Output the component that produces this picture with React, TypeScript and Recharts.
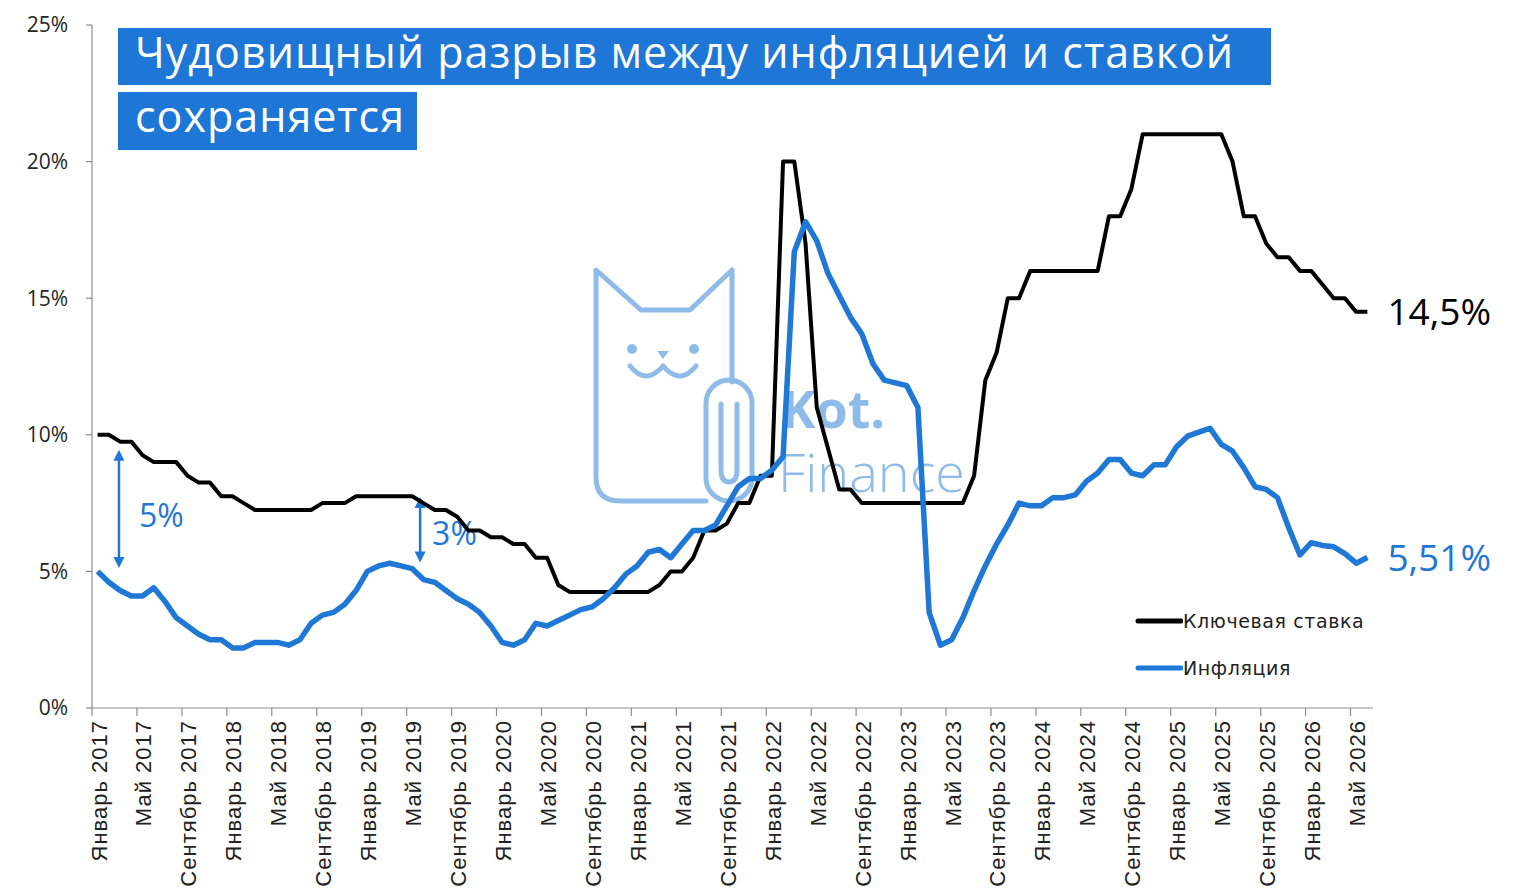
import React from 'react';
import { LineChart, Line, XAxis, YAxis, ReferenceLine, Legend, LabelList } from 'recharts';

// Tick labels (every 4 months)
const tickLabels = [
  'Январь 2017', 'Май 2017', 'Сентябрь 2017',
  'Январь 2018', 'Май 2018', 'Сентябрь 2018',
  'Январь 2019', 'Май 2019', 'Сентябрь 2019',
  'Январь 2020', 'Май 2020', 'Сентябрь 2020',
  'Январь 2021', 'Май 2021', 'Сентябрь 2021',
  'Январь 2022', 'Май 2022', 'Сентябрь 2022',
  'Январь 2023', 'Май 2023', 'Сентябрь 2023',
  'Январь 2024', 'Май 2024', 'Сентябрь 2024',
  'Январь 2025', 'Май 2025', 'Сентябрь 2025',
  'Январь 2026', 'Май 2026',
];

// Ключевая ставка, monthly Jan 2017 .. Jun 2026
const keyRate = [
  10, 10, 9.75, 9.75, 9.25, 9, 9, 9, 8.5, 8.25, 8.25, 7.75,
  7.75, 7.5, 7.25, 7.25, 7.25, 7.25, 7.25, 7.25, 7.5, 7.5, 7.5, 7.75,
  7.75, 7.75, 7.75, 7.75, 7.75, 7.5, 7.25, 7.25, 7, 6.5, 6.5, 6.25,
  6.25, 6, 6, 5.5, 5.5, 4.5, 4.25, 4.25, 4.25, 4.25, 4.25, 4.25,
  4.25, 4.25, 4.5, 5, 5, 5.5, 6.5, 6.5, 6.75, 7.5, 7.5, 8.5,
  8.5, 20, 20, 17, 11, 9.5, 8, 8, 7.5, 7.5, 7.5, 7.5,
  7.5, 7.5, 7.5, 7.5, 7.5, 7.5, 8.5, 12, 13, 15, 15, 16,
  16, 16, 16, 16, 16, 16, 18, 18, 19, 21, 21, 21,
  21, 21, 21, 21, 21, 20, 18, 18, 17, 16.5, 16.5, 16,
  16, 15.5, 15, 15, 14.5, 14.5,
];

// Инфляция, monthly Jan 2017 .. Jun 2026
const inflation = [
  5.0, 4.6, 4.3, 4.1, 4.1, 4.4, 3.9, 3.3, 3.0, 2.7, 2.5, 2.5,
  2.2, 2.2, 2.4, 2.4, 2.4, 2.3, 2.5, 3.1, 3.4, 3.5, 3.8, 4.3,
  5.0, 5.2, 5.3, 5.2, 5.1, 4.7, 4.6, 4.3, 4.0, 3.8, 3.5, 3.0,
  2.4, 2.3, 2.5, 3.1, 3.0, 3.2, 3.4, 3.6, 3.7, 4.0, 4.4, 4.9,
  5.2, 5.7, 5.8, 5.5, 6.0, 6.5, 6.5, 6.7, 7.4, 8.1, 8.4, 8.4,
  8.7, 9.2, 16.7, 17.8, 17.1, 15.9, 15.1, 14.3, 13.7, 12.6, 12.0, 11.9,
  11.8, 11.0, 3.5, 2.3, 2.5, 3.3, 4.3, 5.2, 6.0, 6.7, 7.5, 7.4,
  7.4, 7.7, 7.7, 7.8, 8.3, 8.6, 9.1, 9.1, 8.6, 8.5, 8.9, 8.9,
  9.55, 9.95, 10.1, 10.24, 9.65, 9.4, 8.8, 8.1, 8.0, 7.7, 6.6, 5.6,
  6.05, 5.95, 5.9, 5.65, 5.3, 5.51,
];

const yTicks = [0, 5, 10, 15, 20, 25];
const seriesOrder = ['Ключевая ставка', 'Инфляция'];

// Gap annotations (month position, upper value, lower value, label centre value)
const gapNotes = [
  { x: 2.4, from: 9.45, to: 5.12, labelAt: 7.06, text: '5%' },
  { x: 29.2, from: 7.72, to: 5.33, labelAt: 6.4, text: '3%' },
];

const BLUE = '#1f77d6';
const FONT = "'Open Sans', 'Noto Sans', sans-serif";

const data = keyRate.map((v, i) => ({ x: i + 0.5, rate: v, infl: inflation[i] }));
const xTicks = tickLabels.map((_, k) => k * 4);
const LAST = keyRate.length - 1;

const fmt = (v: number) => String(v).replace('.', ',') + '%';

const XTick = (props: any) => {
  const { x, y, payload } = props;
  const label = tickLabels[Math.round(payload.value / 4)];
  return (
    <text
      transform={`translate(${x + 6.6},${y}) rotate(-90)`}
      textAnchor="end"
      dy="0.36em"
      fontSize={22}
      letterSpacing={1}
      fontFamily="'Liberation Sans', Arial, sans-serif"
      fill="#222"
    >
      {label}
    </text>
  );
};

const endLabel = (color: string) => (props: any) => {
  const { x, y, index, value } = props;
  if (index !== LAST) return null;
  return (
    <text x={x + 20} y={y} dy="0.36em" fontSize={37} fontFamily={FONT} fill={color}>
      {fmt(value)}
    </text>
  );
};

const gapShape = (note: typeof gapNotes[number], dx: number) => (props: any) => {
  const { x1, y1, x2, y2 } = props;
  const ah = 11;
  const aw = 5.5;
  const ly = y1 + ((note.from - note.labelAt) / (note.from - note.to)) * (y2 - y1);
  return (
    <g>
      <line x1={x1} y1={y1 + ah - 1} x2={x2} y2={y2 - ah + 1} stroke={BLUE} strokeWidth={2.5} />
      <polygon points={`${x1},${y1} ${x1 - aw},${y1 + ah} ${x1 + aw},${y1 + ah}`} fill={BLUE} />
      <polygon points={`${x2},${y2} ${x2 - aw},${y2 - ah} ${x2 + aw},${y2 - ah}`} fill={BLUE} />
      <text x={x1 + dx} y={ly} dy="0.36em" fontSize={32} fontFamily={FONT} fill={BLUE}>
        {note.text}
      </text>
    </g>
  );
};

const renderLegend = (props: any) => {
  const items = [...(props.payload || [])].sort(
    (a: any, b: any) => seriesOrder.indexOf(a.value) - seriesOrder.indexOf(b.value)
  );
  return (
    <div>
      {items.map((e: any, i: number) => (
        <div key={i} style={{ display: 'flex', alignItems: 'center', height: 47 }}>
          <svg width={48} height={10} style={{ display: 'block' }}>
            <line x1={3} x2={46} y1={5} y2={5} stroke={e.color} strokeWidth={5} strokeLinecap="round" />
          </svg>
          <span
            style={{
              fontFamily: "'DejaVu Sans', Verdana, sans-serif",
              fontSize: 19,
              letterSpacing: 0.6,
              color: '#222',
              whiteSpace: 'nowrap',
            }}
          >
            {e.value}
          </span>
        </div>
      ))}
    </div>
  );
};

const WM = '#8fbbe9';
const Watermark = () => (
  <svg width={1518} height={894} style={{ position: 'absolute', left: 0, top: 0 }}>
    <g fill="none" stroke={WM} strokeWidth={5} strokeLinejoin="round" strokeLinecap="round">
      <path d="M 706 501 L 620 501 Q 596 501 596 477 L 596 270 L 641 310 L 690 310 L 732 270 L 732 382" />
      <rect x={706} y={380} width={46} height={121} rx={23} />
      <path d="M 721 404 L 721 470 Q 721 482 729 482 Q 737 482 737 470 L 737 404" />
      <path d="M 630 366 Q 646 386 663 366 Q 680 386 696 366" />
    </g>
    <circle cx={632} cy={349} r={5} fill={WM} />
    <circle cx={694} cy={349} r={5} fill={WM} />
    <path d="M 657 351 L 669 351 L 663 359 Z" fill={WM} />
    <text x={781} y={428} fontSize={52} fontWeight={700} fill={WM} fontFamily={FONT}>Kot.</text>
    <text x={778} y={492} fontSize={54} fontWeight={300} fill={WM} fontFamily={FONT}>Finance</text>
  </svg>
);

const titleBox: React.CSSProperties = {
  position: 'absolute',
  left: 118,
  background: '#1e77d6',
  color: '#fff',
  fontFamily: FONT,
  fontSize: 43,
  letterSpacing: 1,
  lineHeight: '47px',
  paddingLeft: 17,
  boxSizing: 'border-box',
  whiteSpace: 'nowrap',
};

export default function App() {
  return (
    <div style={{ position: 'absolute', left: 0, top: 0, width: 1518, height: 894, background: '#fff', overflow: 'hidden' }}>
      <Watermark />
      <div style={{ position: 'absolute', left: 0, top: 0 }}>
        <LineChart width={1518} height={894} data={data} margin={{ top: 25, right: 145, bottom: 0, left: 0 }}>
          <XAxis
            dataKey="x"
            type="number"
            domain={[0, 114]}
            ticks={xTicks}
            interval={0}
            height={186}
            tickSize={8}
            tickMargin={4}
            tick={<XTick />}
            axisLine={{ stroke: '#8c8c8c', strokeWidth: 1.2 }}
            tickLine={{ stroke: '#8c8c8c', strokeWidth: 1.2 }}
          />
          <YAxis
            type="number"
            domain={[0, 25]}
            ticks={yTicks}
            interval={0}
            width={92}
            tickSize={6}
            tickMargin={18}
            tickFormatter={(v: number) => `${v}%`}
            tick={{ fontSize: 21, fontFamily: FONT, fill: '#262626' }}
            axisLine={{ stroke: '#8c8c8c', strokeWidth: 1.2 }}
            tickLine={{ stroke: '#8c8c8c', strokeWidth: 1.2 }}
          />
          {gapNotes.map((n, i) => (
            <ReferenceLine
              key={i}
              segment={[{ x: n.x, y: n.from }, { x: n.x, y: n.to }]}
              shape={gapShape(n, i === 0 ? 20 : 12)}
              ifOverflow="visible"
            />
          ))}
          <Line
            type="linear"
            dataKey="rate"
            name="Ключевая ставка"
            stroke="#000"
            strokeWidth={4}
            strokeLinejoin="round"
            dot={false}
            activeDot={false}
            isAnimationActive={false}
          >
            <LabelList dataKey="rate" content={endLabel('#000')} />
          </Line>
          <Line
            type="linear"
            dataKey="infl"
            name="Инфляция"
            stroke={BLUE}
            strokeWidth={5.5}
            strokeLinejoin="round"
            dot={false}
            activeDot={false}
            isAnimationActive={false}
          >
            <LabelList dataKey="infl" content={endLabel(BLUE)} />
          </Line>
          <Legend
            layout="vertical"
            align="center"
            verticalAlign="middle"
            content={renderLegend}
            wrapperStyle={{ left: 1135, top: 597, width: 260, height: 94 }}
          />
        </LineChart>
      </div>
      <div style={{ ...titleBox, top: 28, width: 1153, height: 57 }}>Чудовищный разрыв между инфляцией и ставкой</div>
      <div style={{ ...titleBox, top: 92, width: 299, height: 58 }}>сохраняется</div>
    </div>
  );
}
